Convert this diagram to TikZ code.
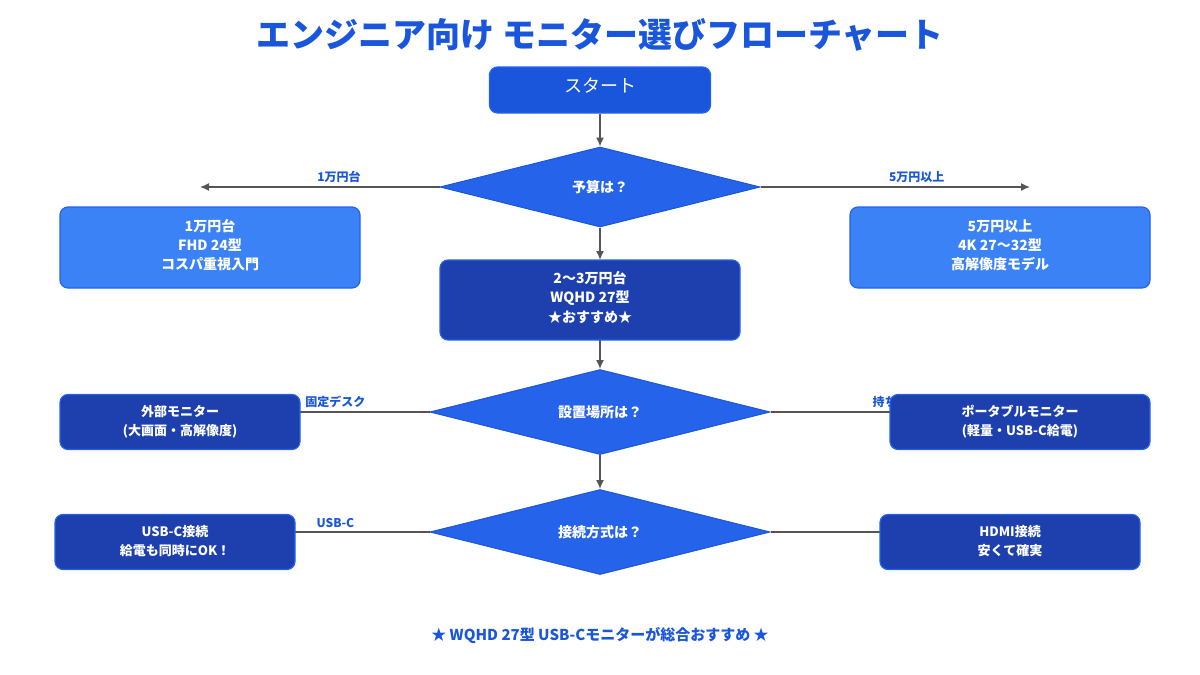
\documentclass[tikz,border=0pt]{standalone}
\usepackage{fontspec}
\setmainfont{Noto Sans CJK JP}
\usetikzlibrary{shapes.geometric,backgrounds,arrows.meta}
\definecolor{mainblue}{HTML}{1A56DB}
\definecolor{diablue}{HTML}{2563EB}
\definecolor{lightblue}{HTML}{3B82F6}
\definecolor{darkblue}{HTML}{1E40AF}
\definecolor{linegray}{HTML}{555555}
\tikzset{
  box/.style={rounded corners=8pt, draw=diablue, line width=1.2pt, text=white,
    align=center, inner sep=0pt, font=\bfseries\fontsize{14}{22}\selectfont},
  decision/.style={diamond, fill=diablue, draw=mainblue, line width=1pt, text=white,
    inner sep=0pt, font=\bfseries\fontsize{14}{17}\selectfont},
  flow/.style={draw=linegray, line width=1.5pt, -{Latex[length=9pt,width=8pt]}},
  choice/.style={text=mainblue, font=\bfseries\fontsize{12}{14}\selectfont}
}
\begin{document}
\begin{tikzpicture}[x=1pt,y=-1pt]
  \useasboundingbox (0,0) rectangle (1200,675);
  % Title
  \node[text=mainblue, font=\bfseries\fontsize{34}{36}\selectfont] (title) at (600,35) {エンジニア向け モニター選びフローチャート};
  % Steps
  \node[box, fill=mainblue, minimum width=221pt, minimum height=46pt, font=\fontsize{18}{20}\selectfont] (start) at (600,90) {\raisebox{9pt}{スタート}};
  \node[decision, minimum width=320pt, minimum height=80pt, aspect=4] (budget) at (600,187) {予算は？};
  \node[box, fill=lightblue, minimum width=300pt, minimum height=81pt] (low) at (210,247.5) {\raisebox{6pt}{\shortstack{1万円台\\[3pt]FHD 24型\\[3pt]コスパ重視入門}}};
  \node[box, fill=lightblue, minimum width=300pt, minimum height=81pt] (high) at (1000,247.5) {\raisebox{6pt}{\shortstack{5万円以上\\[3pt]4K 27〜32型\\[3pt]高解像度モデル}}};
  \node[box, fill=darkblue, minimum width=300pt, minimum height=80pt] (mid) at (590,300) {\raisebox{6pt}{\shortstack{2〜3万円台\\[3pt]WQHD 27型\\[3pt]★おすすめ★}}};
  \node[decision, minimum width=340pt, minimum height=85pt, aspect=4] (place) at (600,412) {設置場所は？};
  \node[decision, minimum width=340pt, minimum height=85pt, aspect=4] (port) at (600,532) {接続方式は？};
  % Results
  \coordinate (deskin) at (200,412);
  \coordinate (mobilein) at (1000,412);
  \coordinate (usbcin) at (200,532);
  \coordinate (hdmiin) at (1000,532);
  \coordinate (lowend) at (200,187);
  \coordinate (highend) at (1030,187);
  \begin{pgfonlayer}{background}
    \draw[flow] (start) -- (budget);
    \draw[flow] (budget.south) -- (600,260);
    \draw[flow] (600,340) -- (place.north);
    \draw[flow] (place) -- (port);
    \draw[flow] (budget.west) -- node[choice, above, pos=0.42] {1万円台} (lowend);
    \draw[flow] (budget.east) -- node[choice, above, pos=0.58] {5万円以上} (highend);
    \draw[flow] (place.west) -- node[choice, above, pos=0.41] {固定デスク} (deskin);
    \draw[flow] (place.east) -- node[choice, above, pos=0.55] {持ち運び} (mobilein);
    \draw[flow] (port.west) -- node[choice, above, pos=0.41] {USB-C} (usbcin);
    \draw[flow] (port.east) -- (hdmiin);
  \end{pgfonlayer}
  \node[box, fill=darkblue, minimum width=240pt, minimum height=55pt, font=\bfseries\fontsize{13}{21}\selectfont] (desk) at (180,422) {\raisebox{3pt}{\shortstack{外部モニター\\[4pt](大画面・高解像度)}}};
  \node[box, fill=darkblue, minimum width=260pt, minimum height=55pt, font=\bfseries\fontsize{13}{21}\selectfont] (mobile) at (1020,422) {\raisebox{3pt}{\shortstack{ポータブルモニター\\[4pt](軽量・USB-C給電)}}};
  \node[box, fill=darkblue, minimum width=240pt, minimum height=55pt, font=\bfseries\fontsize{13}{21}\selectfont] (usbc) at (175,542) {\raisebox{3pt}{\shortstack{USB-C接続\\[4pt]給電も同時にOK！}}};
  \node[box, fill=darkblue, minimum width=260pt, minimum height=55pt, font=\bfseries\fontsize{13}{21}\selectfont] (hdmi) at (1010,542) {\raisebox{3pt}{\shortstack{HDMI接続\\[4pt]安くて確実}}};
  % Footer
  \node[text=mainblue, font=\bfseries\fontsize{15}{18}\selectfont] (footer) at (600,635) {★ WQHD 27型 USB-Cモニターが総合おすすめ ★};
\end{tikzpicture}
\end{document}
